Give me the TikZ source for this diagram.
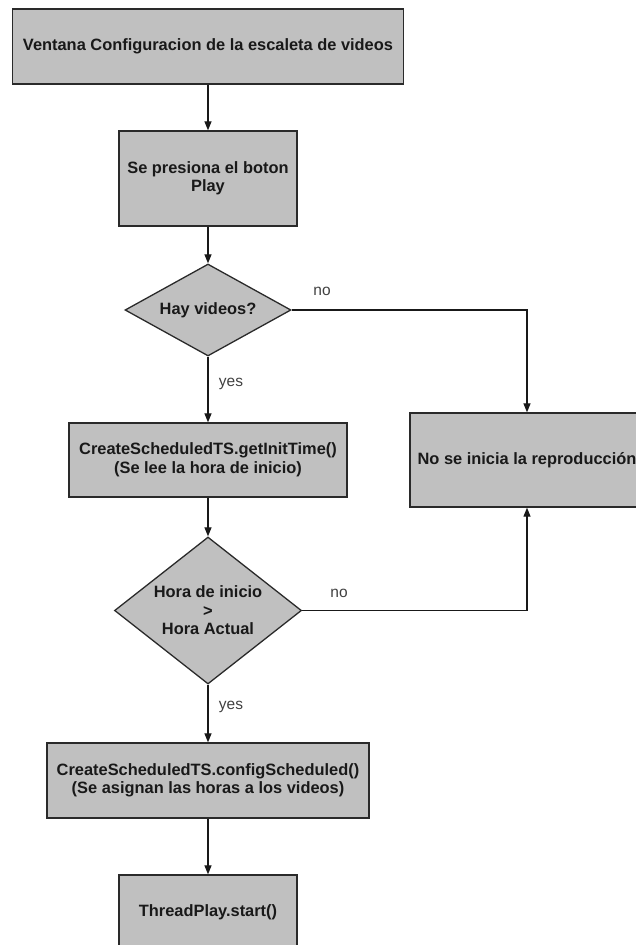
\documentclass[tikz,border=0pt]{standalone}
\usepackage{fontspec}
\setmainfont{Liberation Sans}
\usetikzlibrary{arrows.meta,shapes.geometric}
\definecolor{boxgray}{HTML}{C0C0C0}
\definecolor{edgegray}{HTML}{2A2A2A}
\begin{document}
\begin{tikzpicture}[x=1pt, y=-1pt,
  box/.style={draw=edgegray, fill=boxgray, line width=1.3pt, align=center, inner sep=0pt,
    text=black!90, font=\bfseries\fontsize{16.4}{18.5}\selectfont},
  decision/.style={box, diamond},
  answer/.style={text=black!75, font=\fontsize{15.5}{18}\selectfont},
  arrow/.style={-{Triangle[width=7pt,length=9pt]}, line width=1.2pt, draw=black!90}
]
\useasboundingbox (0,0) rectangle (635,945);
\node[box, minimum width=391pt, minimum height=75pt] (ventana) at (208,46.5) {Ventana Configuracion de la escaleta de videos};
\node[box, minimum width=178pt, minimum height=95pt] (play) at (208,178.5) {Se presiona el boton\\Play};
\node[decision, aspect=1.8, minimum width=166pt, minimum height=92pt] (hayvideos) at (208,310) {Hay videos?};
\node[box, minimum width=278pt, minimum height=74pt] (inittime) at (208,460) {CreateScheduledTS.getInitTime()\\(Se lee la hora de inicio)};
\node[box, minimum width=234pt, minimum height=94pt] (noinicia) at (527,460) {No se inicia la reproducción};
\node[decision, aspect=1.27, minimum width=187pt, minimum height=147pt] (hora) at (208,610.5) {Hora de inicio\\>\\Hora Actual};
\node[box, minimum width=322pt, minimum height=75pt] (config) at (208,780.5) {CreateScheduledTS.configScheduled()\\(Se asignan las horas a los videos)};
\node[box, minimum width=178pt, minimum height=75pt] (thread) at (208,912.5) {ThreadPlay.start()};
\node[answer] (nohay) at (322,291) {no};
\node[answer] (yeshay) at (231,384) {yes};
\node[answer] (nohora) at (339,593) {no};
\node[answer] (yeshora) at (231,707) {yes};
\draw[arrow] (ventana) -- (play);
\draw[arrow] (play) -- (hayvideos);
\draw[arrow] (hayvideos) -- (inittime);
\draw[arrow] (hayvideos.east) -| (noinicia.north);
\draw[arrow] (inittime) -- (hora);
\draw[arrow] (hora.east) -| (noinicia.south);
\draw[arrow] (hora) -- (config);
\draw[arrow] (config) -- (thread);
\end{tikzpicture}
\end{document}
